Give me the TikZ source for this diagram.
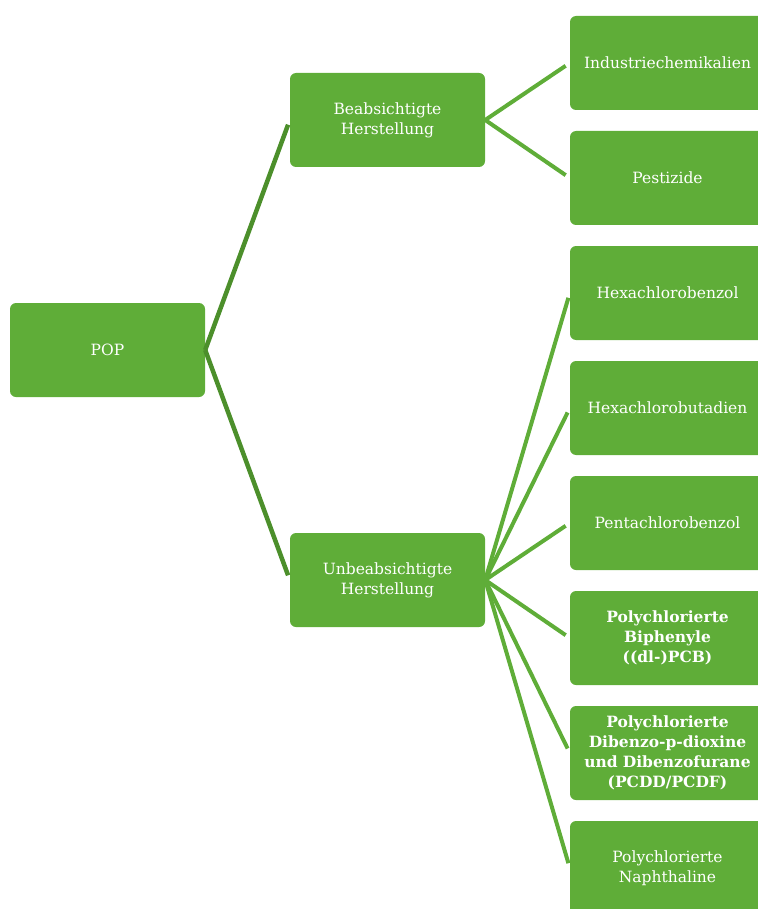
\documentclass[tikz,border=0pt]{standalone}
\usepackage{fontspec}
\setmainfont{DejaVu Serif}
\definecolor{boxgreen}{RGB}{95,173,56}
\definecolor{linedark}{RGB}{76,143,43}
\definecolor{linelight}{RGB}{95,173,56}
\begin{document}
\begin{tikzpicture}[x=1pt,y=-1pt,
  gbox/.style={rectangle, rounded corners=6pt, fill=boxgreen, text=white,
    minimum width=195pt, minimum height=94pt, inner sep=2pt, align=center,
    font=\fontsize{15.5}{20}\selectfont},
  leafbox/.style={gbox, minimum width=195pt, text width=188pt},
  darkconn/.style={draw=linedark, line width=4.5pt, shorten >=5pt},
  lightconn/.style={draw=linelight, line width=4pt, shorten >=5pt}]
\useasboundingbox (0,0) rectangle (757,909);
\node[gbox] (pop) at (107.5,350) {POP};
\node[gbox] (beab) at (387.5,120) {Beabsichtigte\\Herstellung};
\node[gbox] (unbeab) at (387.5,580) {Unbeabsichtigte\\Herstellung};
\node[leafbox] (l1) at (667.5,63) {Industriechemikalien};
\node[leafbox] (l2) at (667.5,178) {Pestizide};
\node[leafbox] (l3) at (667.5,293) {Hexachlorobenzol};
\node[leafbox] (l4) at (667.5,408) {Hexachlorobutadien};
\node[leafbox] (l5) at (667.5,523) {Pentachlorobenzol};
\node[leafbox, font=\fontsize{15.5}{20}\selectfont\bfseries] (l6) at (667.5,638) {Polychlorierte\\Biphenyle\\((dl-)PCB)};
\node[leafbox, font=\fontsize{15.5}{20}\selectfont\bfseries] (l7) at (667.5,753) {Polychlorierte\\Dibenzo-p-dioxine\\und Dibenzofurane\\(PCDD/PCDF)};
\node[leafbox] (l8) at (667.5,868) {Polychlorierte\\Naphthaline};
\draw[darkconn] (pop.east) -- (beab.west);
\draw[darkconn] (pop.east) -- (unbeab.west);
\foreach \l in {l1,l2} \draw[lightconn] (beab.east) -- (\l.west);
\foreach \l in {l3,l4,l5,l6,l7,l8} \draw[lightconn] (unbeab.east) -- (\l.west);
\end{tikzpicture}
\end{document}
